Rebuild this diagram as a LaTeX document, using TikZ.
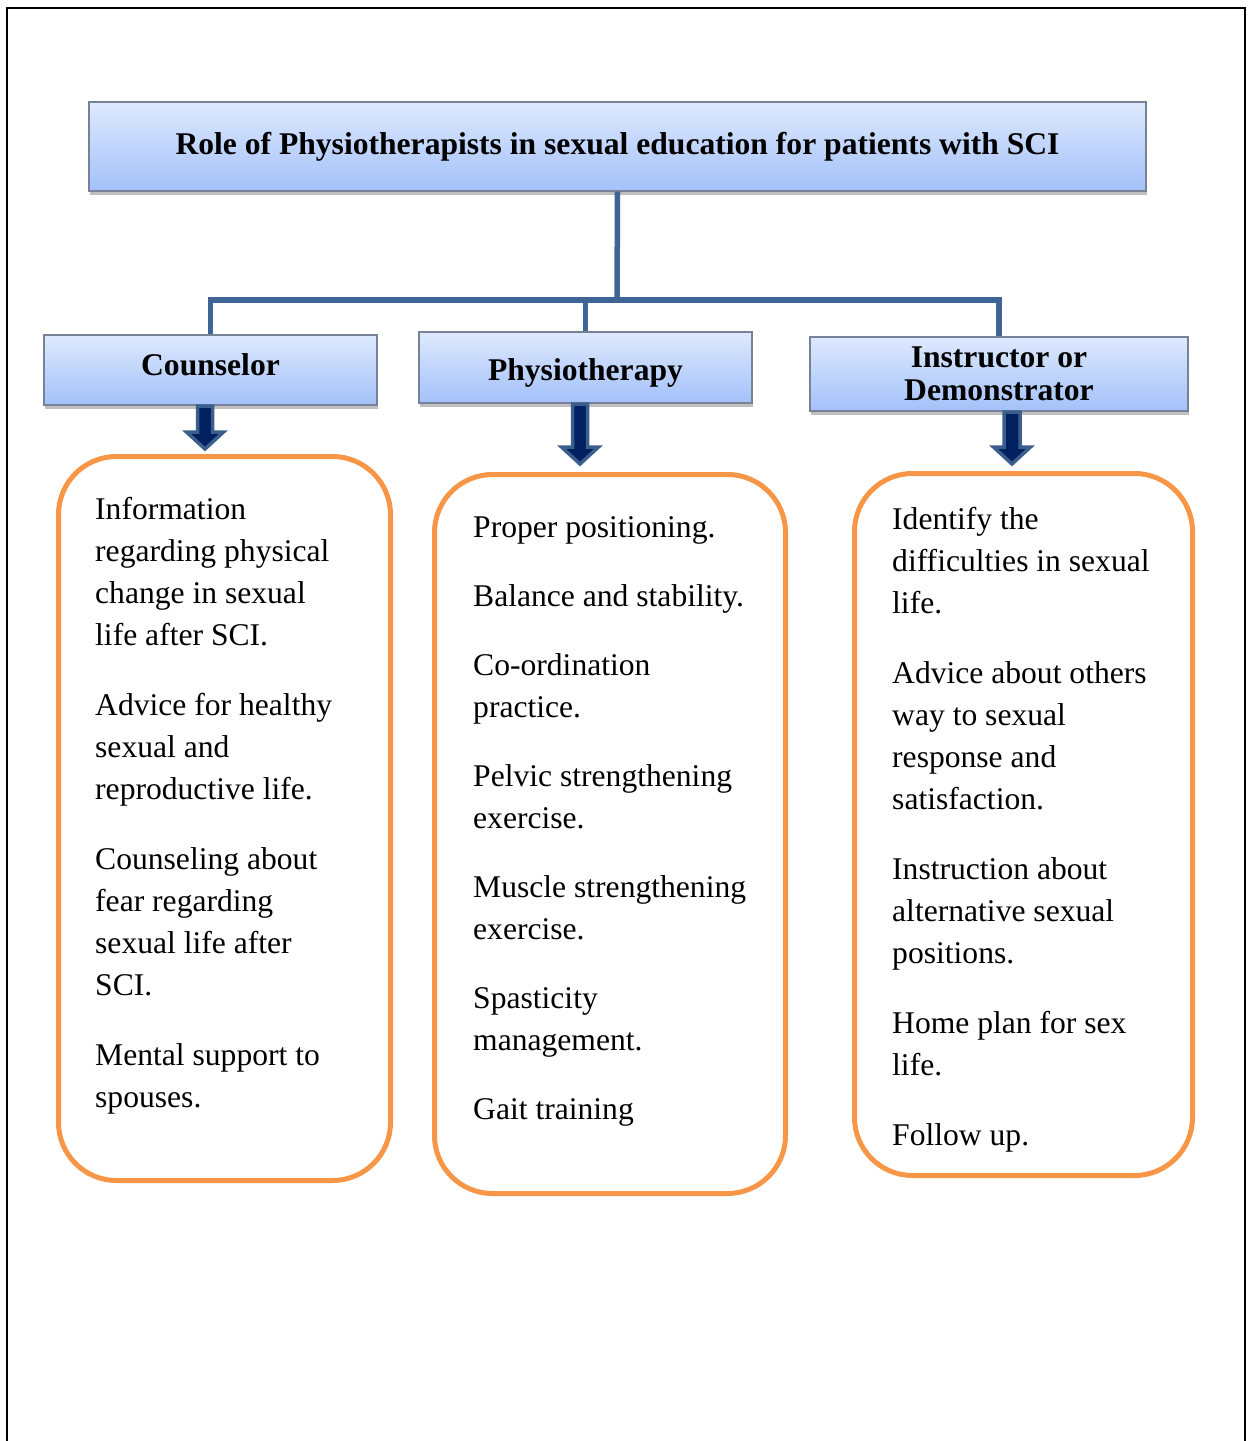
\documentclass[tikz,border=0pt]{standalone}
\usepackage{fontspec}
\setmainfont{Liberation Serif}
\usetikzlibrary{shadows}
\definecolor{boxtop}{RGB}{222,233,253}
\definecolor{boxbot}{RGB}{163,193,250}
\definecolor{boxedge}{RGB}{120,130,150}
\definecolor{linkblue}{RGB}{63,101,150}
\definecolor{arrnavy}{RGB}{0,32,96}
\definecolor{arredge}{RGB}{58,95,140}
\definecolor{listorange}{RGB}{247,150,70}
\tikzset{
  headbox/.style={draw=boxedge, line width=1.2pt, top color=boxtop, bottom color=boxbot,
    drop shadow={shadow xshift=1pt, shadow yshift=-4pt, opacity=0.5},
    inner sep=0pt, align=center, font=\bfseries\fontsize{31.6}{33}\selectfont},
  listbox/.style={draw=listorange, line width=5pt, rounded corners=58pt, inner sep=0pt},
  listtext/.style={anchor=north west, inner sep=0pt, align=left, font=\fontsize{31.6}{42}\selectfont},
  linkline/.style={draw=linkblue, line width=5.5pt},
  blockarr/.style={fill=arrnavy, draw=arredge, line width=3.5pt, line join=miter},
}
\begin{document}
\begin{tikzpicture}[x=1pt,y=1pt,yscale=-1,xscale=1]
\useasboundingbox (0,0) rectangle (1249,1441);

%Frame (open at the bottom)
\draw [line width=2.7pt] (7,1441) -- (7,8) -- (1245,8) -- (1245,1441) ;

% Title Node
\node [headbox, minimum width=1057pt, minimum height=89pt] (title) at (617.5,146.5) {Role of Physiotherapists in sexual education for patients with SCI};

% Role Nodes
\node [headbox, minimum width=333pt, minimum height=70pt, text depth=10pt] (cnsl) at (210.5,370) {Counselor};
\node [headbox, minimum width=333pt, minimum height=71pt, text height=32pt] (phys) at (585.5,367.5) {Physiotherapy};
\node [headbox, minimum width=378pt, minimum height=74pt] (inst) at (999,374) {Instructor or\\Demonstrator};

%Connectors
\coordinate (hub) at (617,300);
\draw [linkline] (title.south) -- (hub) ;
\draw [linkline] (cnsl.north) |- (hub) -| (inst.north) ;
\draw [linkline] (phys.north) -- (phys.north |- hub) ;

%Block Arrows
\draw [blockarr] (197.5,406) -- (212.5,406) -- (212.5,432) -- (223.5,432) -- (205,449) -- (186.5,432) -- (197.5,432) -- cycle ;
\draw [blockarr] (572.5,404) -- (587.5,404) -- (587.5,447) -- (598.5,447) -- (580,464) -- (561.5,447) -- (572.5,447) -- cycle ;
\draw [blockarr] (1004,412) -- (1020,412) -- (1020,447) -- (1030.5,447) -- (1012,464) -- (993.5,447) -- (1004,447) -- cycle ;

% List Boxes
\node [listbox, minimum width=332pt, minimum height=724pt] (cnslbox) at (224.5,818.5) {};
\node [listbox, minimum width=351pt, minimum height=719pt] (physbox) at (610,834) {};
\node [listbox, minimum width=338pt, minimum height=702pt] (instbox) at (1023.5,824.5) {};

% Text Node
\node [listtext] (cnsllist) at (95,497) {Information\\regarding physical\\change in sexual\\life after SCI.\\[28pt]
Advice for healthy\\sexual and\\reproductive life.\\[28pt]
Counseling about\\fear regarding\\sexual life after\\SCI.\\[28pt]
Mental support to\\spouses.};
% Text Node
\node [listtext] (physlist) at (473,516) {Proper positioning.\\[27pt]
Balance and stability.\\[27pt]
Co-ordination\\practice.\\[27pt]
Pelvic strengthening\\exercise.\\[27pt]
Muscle strengthening\\exercise.\\[27pt]
Spasticity\\management.\\[27pt]
Gait training};
% Text Node
\node [listtext] (instlist) at (892,507) {Identify the\\difficulties in sexual\\life.\\[28pt]
Advice about others\\way to sexual\\response and\\satisfaction.\\[28pt]
Instruction about\\alternative sexual\\positions.\\[28pt]
Home plan for sex\\life.\\[28pt]
Follow up.};

\end{tikzpicture}
\end{document}
